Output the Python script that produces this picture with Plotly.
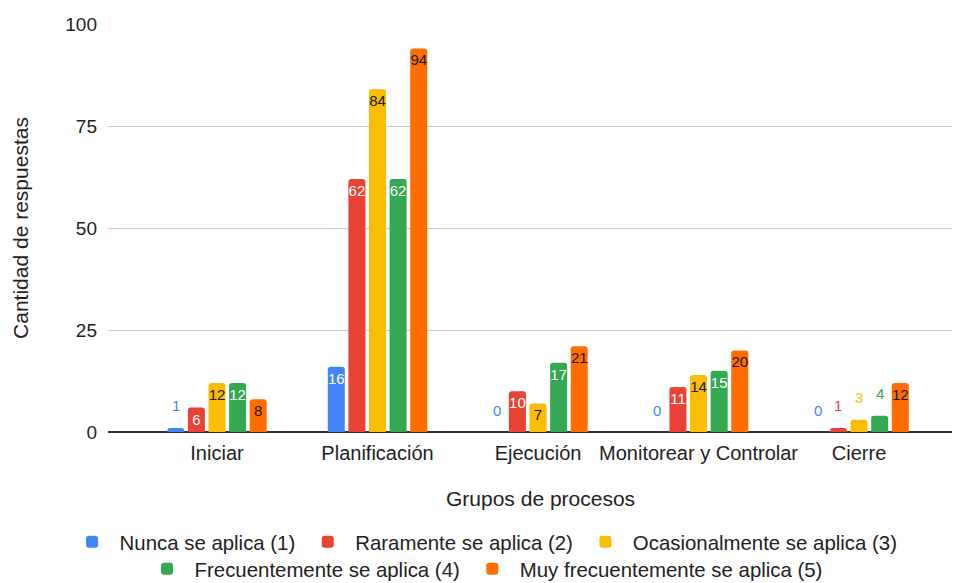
import plotly.graph_objects as go

# Process groups and response counts per frequency level
categories = ["Iniciar", "Planificación", "Ejecución", "Monitorear y Controlar", "Cierre"]
series_names = [
    "Nunca se aplica (1)",
    "Raramente se aplica (2)",
    "Ocasionalmente se aplica (3)",
    "Frecuentemente se aplica (4)",
    "Muy frecuentemente se aplica (5)",
]
nunca = [1, 16, 0, 0, 0]
raramente = [6, 62, 10, 11, 1]
ocasionalmente = [12, 84, 7, 14, 3]
frecuentemente = [12, 62, 17, 15, 4]
muy_frecuentemente = [8, 94, 21, 20, 12]

series_values = [nunca, raramente, ocasionalmente, frecuentemente, muy_frecuentemente]
colors = ["#4285F4", "#EA4335", "#FBBC04", "#34A853", "#FF6D01"]
inside_text_colors = ["#ffffff", "#ffffff", "#1a1a1a", "#ffffff", "#1a1a1a"]
# first three series go on the upper legend row, the rest on the lower one
legend_rows = ["legend", "legend", "legend", "legend2", "legend2"]

FONT = "Liberation Sans, Arial, sans-serif"
TEXT = "#222222"
BARGAP = 0.358
INSIDE_MIN = 5  # values at or below this get their label above the bar

fig = go.Figure()
n = len(series_values)
slot = (1 - BARGAP) / n

for j, (name, vals, col, tcol, lg) in enumerate(
        zip(series_names, series_values, colors, inside_text_colors, legend_rows)):
    texts = [str(v) if v > INSIDE_MIN else "" for v in vals]
    fig.add_trace(go.Bar(
        name=name,
        x=categories,
        y=vals,
        legend=lg,
        marker=dict(color=col, cornerradius=3, line=dict(width=0)),
        text=texts,
        textposition="inside",
        insidetextanchor="end",
        constraintext="none",
        textangle=0,
        insidetextfont=dict(family=FONT, size=15, color=tcol,
                            shadow=f"0px 0px 2px {col}"),
        hoverinfo="x+y+name",
    ))
    # Labels for short bars sit above the bar in the series colour
    for i, v in enumerate(vals):
        if v <= INSIDE_MIN:
            fig.add_annotation(
                x=i - (1 - BARGAP) / 2 + (j + 0.5) * slot,
                y=v,
                text=str(v),
                showarrow=False,
                yanchor="middle",
                yshift=22,
                font=dict(family=FONT, size=15, color=col),
            )

# x-axis title, centred under the category band
fig.add_annotation(
    text="Grupos de procesos",
    xref="paper", yref="paper",
    x=0.512, y=-0.1618,
    xanchor="center", yanchor="middle",
    showarrow=False,
    font=dict(family=FONT, size=21, color=TEXT),
)

legend_style = dict(
    orientation="h",
    xanchor="center",
    x=0.445,
    yanchor="top",
    bgcolor="rgba(0,0,0,0)",
    itemwidth=45,
    font=dict(family=FONT, size=20.4, color=TEXT),
    itemclick=False,
    itemdoubleclick=False,
)

fig.update_layout(
    width=953,
    height=583,
    barmode="group",
    bargap=BARGAP,
    bargroupgap=0.175,
    plot_bgcolor="white",
    paper_bgcolor="white",
    font=dict(family=FONT, size=19, color=TEXT),
    margin=dict(l=108, r=1, t=24, b=151, autoexpand=False),
    legend=dict(legend_style, y=-0.2206),
    legend2=dict(legend_style, y=-0.2868),
    showlegend=True,
)

fig.update_xaxes(
    type="category",
    range=[-0.679, 4.579],
    showgrid=False,
    showline=False,
    ticks="",
    ticklabelstandoff=7,
    tickangle=0,
    tickfont=dict(family=FONT, size=20, color=TEXT),
)

fig.update_yaxes(
    range=[0, 100],
    tickvals=[0, 25, 50, 75, 100],
    showgrid=True,
    gridcolor="#cccccc",
    gridwidth=1,
    zeroline=True,
    zerolinecolor="#333333",
    zerolinewidth=1.5,
    showline=False,
    ticks="",
    ticklabelstandoff=10,
    tickfont=dict(family=FONT, size=19, color=TEXT),
    title=dict(text="Cantidad de respuestas", font=dict(family=FONT, size=21, color=TEXT),
               standoff=30),
)

fig.write_html("out.html")
